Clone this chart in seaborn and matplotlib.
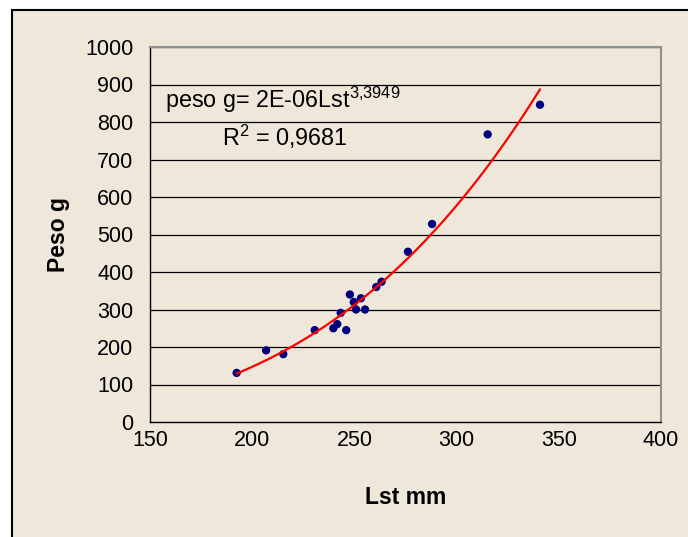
import numpy as np
import pandas as pd
import matplotlib
matplotlib.use("Agg")
import matplotlib.pyplot as plt
import seaborn as sns
from matplotlib.patches import Rectangle

# Data
lst_mm = [192.4, 206.8, 215.2, 230.6, 239.7, 241.6, 243.3, 246.0, 247.8,
          249.7, 250.8, 253.2, 255.2, 260.7, 263.3, 276.2, 288.0, 315.2, 340.8]
peso_g = [131, 191, 181, 245, 250, 261, 291, 245, 340,
          320, 300, 330, 300, 360, 374, 454, 528, 767, 846]

x_ticks = [150, 200, 250, 300, 350, 400]
y_ticks = [0, 100, 200, 300, 400, 500, 600, 700, 800, 900, 1000]

eq_text = r"peso g= 2E-06Lst$^{3{,}3949}$"
r2_text = r"R$^{2}$ = 0,9681"

sns.set_style("white")
plt.rcParams['font.family'] = ['Liberation Sans', 'DejaVu Sans']
plt.rcParams['mathtext.fontset'] = 'custom'
plt.rcParams['mathtext.rm'] = 'Liberation Sans'
plt.rcParams['mathtext.it'] = 'Liberation Sans'
plt.rcParams['mathtext.bf'] = 'Liberation Sans:bold'
for k in ['text.color', 'axes.labelcolor', 'xtick.color', 'ytick.color']:
    plt.rcParams[k] = 'black'

bg = "#EFE8DA"
fig = plt.figure(figsize=(6.88, 5.37), dpi=100, facecolor="white")
fig.patches.append(Rectangle((12/688, -0.05), 1.1, 1 - 10/537 + 0.05,
                             transform=fig.transFigure, facecolor=bg,
                             edgecolor="black", linewidth=1.5, zorder=-10))

ax = fig.add_axes([150/688, 1 - 422/537, (661 - 150)/688, (422 - 47)/537])
ax.set_facecolor(bg)

df = pd.DataFrame({"Lst mm": lst_mm, "Peso g": peso_g})

# Power trendline (least squares in log space, like Excel)
b, ln_a = np.polyfit(np.log(df["Lst mm"]), np.log(df["Peso g"]), 1)
xs = np.linspace(min(lst_mm), max(lst_mm), 100)
trend = pd.DataFrame({"x": xs, "y": np.exp(ln_a) * xs ** b})

for yv in y_ticks[1:]:
    ax.axhline(yv, color="black", linewidth=0.9, zorder=0)

sns.scatterplot(data=df, x="Lst mm", y="Peso g", ax=ax, color="#000080",
                s=36, edgecolor="none", zorder=3)
sns.lineplot(data=trend, x="x", y="y", ax=ax, color="red", linewidth=1.6,
             zorder=4)

ax.set_xlim(150, 400)
ax.set_ylim(0, 1000)
ax.set_xticks(x_ticks)
ax.set_yticks(y_ticks)
ax.tick_params(axis="both", direction="out", length=5, width=1,
               labelsize=15.5, color="black", labelcolor="black")
ax.tick_params(axis="x", pad=1)
ax.tick_params(axis="y", pad=7)
ax.set_xlabel("Lst mm", fontsize=16.5, fontweight="bold", labelpad=25,
              color="black")
ax.set_ylabel("Peso g", fontsize=16.5, fontweight="bold", labelpad=11,
              color="black")

for s in ["left", "bottom"]:
    ax.spines[s].set_color("black")
    ax.spines[s].set_linewidth(1)
for s in ["top", "right"]:
    ax.spines[s].set_color("#909090")
    ax.spines[s].set_linewidth(1.5)

ax.text(215, 858, eq_text, fontsize=16.8, ha="center", va="center",
        color="black", zorder=5)
ax.text(216, 760, r2_text, fontsize=16.8, ha="center", va="center",
        color="black", zorder=5)

fig.savefig("out.png", dpi=100, facecolor="white")
